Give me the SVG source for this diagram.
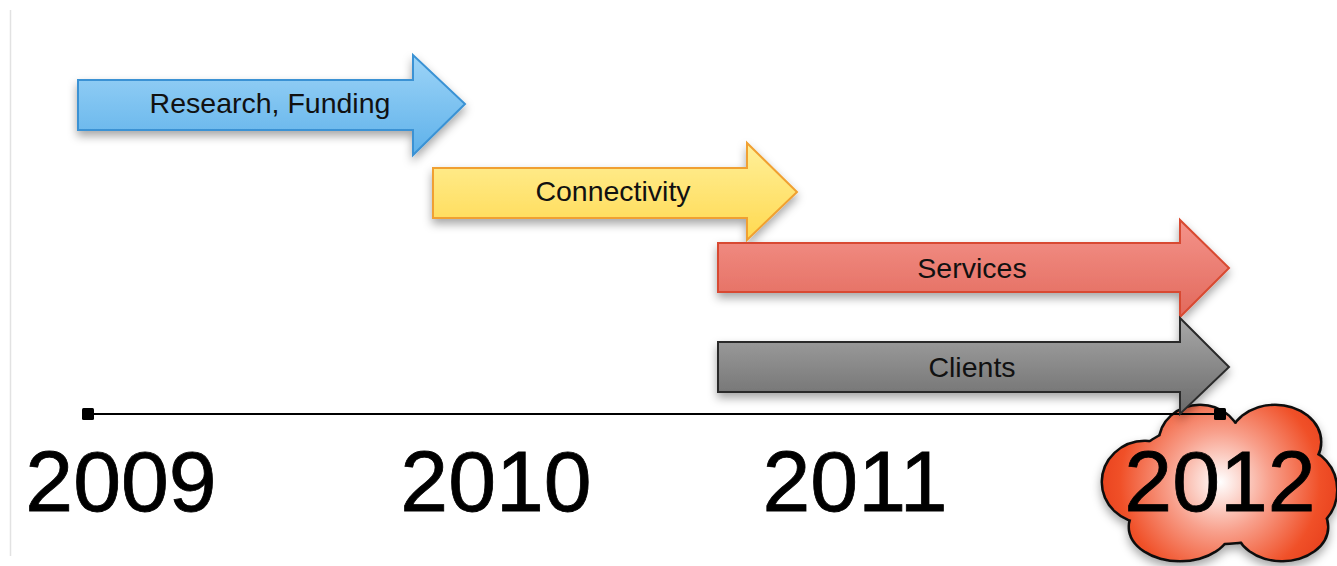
<svg xmlns="http://www.w3.org/2000/svg" width="1337" height="566" viewBox="0 0 1337 566">
  <defs>
    <linearGradient id="gBlue" x1="0" y1="0" x2="0" y2="1">
      <stop offset="0" stop-color="#9dd4f7"/>
      <stop offset="1" stop-color="#5eb1ea"/>
    </linearGradient>
    <linearGradient id="gYellow" x1="0" y1="0" x2="0" y2="1">
      <stop offset="0" stop-color="#fff09a"/>
      <stop offset="1" stop-color="#ffd950"/>
    </linearGradient>
    <linearGradient id="gRed" x1="0" y1="0" x2="0" y2="1">
      <stop offset="0" stop-color="#f4938a"/>
      <stop offset="1" stop-color="#e2695c"/>
    </linearGradient>
    <linearGradient id="gGray" x1="0" y1="0" x2="0" y2="1">
      <stop offset="0" stop-color="#a8a8a8"/>
      <stop offset="1" stop-color="#6a6a6a"/>
    </linearGradient>
    <radialGradient id="gCloud" gradientUnits="userSpaceOnUse" cx="1220" cy="482" r="125">
      <stop offset="0" stop-color="#ffffff"/>
      <stop offset="0.4" stop-color="#f8a08c"/>
      <stop offset="0.8" stop-color="#f05028"/>
      <stop offset="1" stop-color="#e8401c"/>
    </radialGradient>
    <filter id="shadow" x="-10%" y="-20%" width="125%" height="160%">
      <feDropShadow dx="0" dy="5" stdDeviation="5" flood-color="#000" flood-opacity="0.35"/>
    </filter>
    <g id="cloudShape">
      <ellipse cx="1200" cy="442" rx="40" ry="36"/>
      <ellipse cx="1275" cy="442" rx="45" ry="36"/>
      <ellipse cx="1300" cy="490" rx="36" ry="40"/>
      <ellipse cx="1282" cy="527" rx="45" ry="33"/>
      <ellipse cx="1180" cy="527" rx="50" ry="33"/>
      <ellipse cx="1145" cy="482" rx="42" ry="40"/>
      <ellipse cx="1220" cy="483" rx="95" ry="60"/>
    </g>
  </defs>
  <style>
    .lbl { font-family: "Liberation Sans", Arial, sans-serif; font-size: 28.5px; fill: #111; text-anchor: middle; }
    .year { font-family: "Liberation Sans", Arial, sans-serif; font-size: 86px; fill: #000; stroke: #000; stroke-width: 0.8; text-anchor: middle; }
    .arrow { stroke-width: 2; stroke-linejoin: miter; filter: url(#shadow); }
  </style>
  <rect width="1337" height="566" fill="#ffffff"/>
  <line x1="10.5" y1="10" x2="10.5" y2="556" stroke="#e2e2e2" stroke-width="1.5"/>

  <g id="cloud2012">
    <use href="#cloudShape" fill="#111" stroke="#111" stroke-width="5" filter="url(#shadow)"/>
    <use href="#cloudShape" fill="url(#gCloud)"/>
  </g>

  <g id="connectors">
    <line x1="88" y1="414" x2="1220" y2="414" stroke="#000" stroke-width="2"/>
    <rect x="82" y="408" width="12" height="12" rx="1.5" fill="#000"/>
    <rect x="1214" y="408" width="12" height="12" rx="1.5" fill="#000"/>
  </g>

  <g id="research">
    <path class="arrow" d="M78,80 H413 V55 L465,104 L413,155 V130 H78 Z" fill="url(#gBlue)" stroke="#3a92d4"/>
    <text class="lbl" x="270" y="113">Research, Funding</text>
  </g>
  <g id="connectivity">
    <path class="arrow" d="M433,168 H747 V143 L797,192 L747,240 V218 H433 Z" fill="url(#gYellow)" stroke="#f0a030"/>
    <text class="lbl" x="613" y="201">Connectivity</text>
  </g>
  <g id="services">
    <path class="arrow" d="M718,243 H1180 V220 L1229,268 L1180,317 V292 H718 Z" fill="url(#gRed)" stroke="#d84a30"/>
    <text class="lbl" x="972" y="278">Services</text>
  </g>
  <g id="clients">
    <path class="arrow" d="M718,342 H1180 V318 L1229,367 L1180,414 V392 H718 Z" fill="url(#gGray)" stroke="#2a2a2a"/>
    <text class="lbl" x="972" y="377">Clients</text>
  </g>

  <g id="y2009"><text class="year" x="121" y="511">2009</text></g>
  <g id="y2010"><text class="year" x="496" y="511">2010</text></g>
  <g id="y2011"><text class="year" x="855" y="511">2011</text></g>
  <g id="y2012"><text class="year" x="1220" y="511">2012</text></g>
</svg>
